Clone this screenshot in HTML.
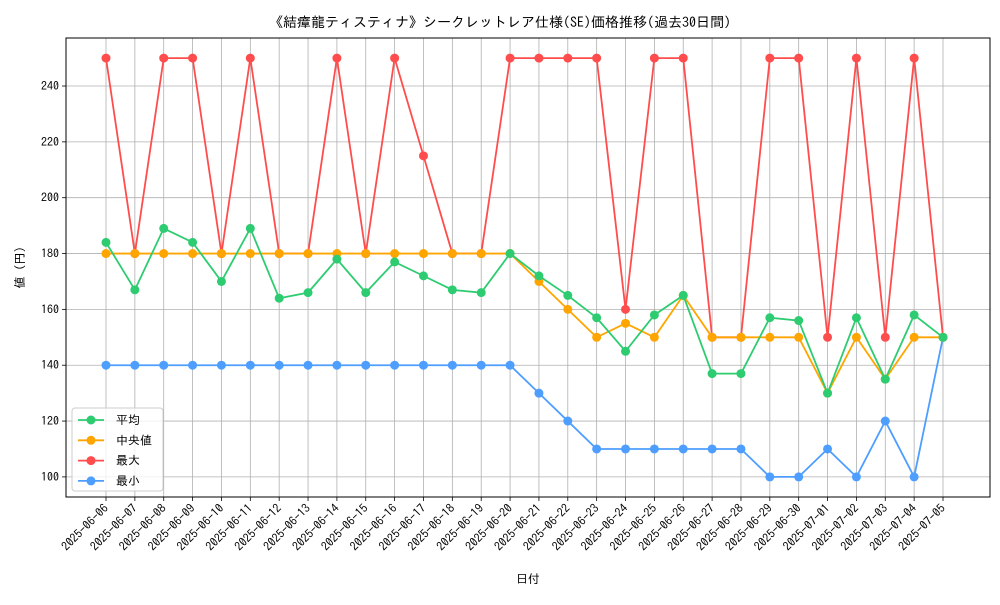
<!DOCTYPE html>
<html><head><meta charset="utf-8"><style>
body{margin:0;background:#fff;}
svg text{font-family:"IPAGothic","Noto Sans CJK JP",sans-serif;fill:#000;}
</style></head><body>
<svg id="chart" width="1000" height="600"></svg>
<script>
const dates=["2025-06-06","2025-06-07","2025-06-08","2025-06-09","2025-06-10","2025-06-11","2025-06-12","2025-06-13","2025-06-14","2025-06-15","2025-06-16","2025-06-17","2025-06-18","2025-06-19","2025-06-20","2025-06-21","2025-06-22","2025-06-23","2025-06-24","2025-06-25","2025-06-26","2025-06-27","2025-06-28","2025-06-29","2025-06-30","2025-07-01","2025-07-02","2025-07-03","2025-07-04","2025-07-05"];
const meanVals=[184,167,189,184,170,189,164,166,178,166,177,172,167,166,180,172,165,157,145,158,165,137,137,157,156,130,157,135,158,150];
const medianVals=[180,180,180,180,180,180,180,180,180,180,180,180,180,180,180,170,160,150,155,150,165,150,150,150,150,130,150,135,150,150];
const maxVals=[250,180,250,250,180,250,180,180,250,180,250,215,180,180,250,250,250,250,160,250,250,150,150,250,250,150,250,150,250,150];
const minVals=[140,140,140,140,140,140,140,140,140,140,140,140,140,140,140,130,120,110,110,110,110,110,110,100,100,110,100,120,100,150];
const yTicks=[100,120,140,160,180,200,220,240];
const seriesNames=["平均","中央値","最大","最小"];
const seriesColors=["#2ecc71","#ffa500","#ff4d4d","#4d9eff"];

const svg=document.getElementById('chart');
const NS="http://www.w3.org/2000/svg";
const L=66,R=990,T=38,B=497,yMin=92.8,yMax=257.2;
const xs=i=>106+(943-106)*i/(dates.length-1);
const ys=v=>B-(v-yMin)/(yMax-yMin)*(B-T);
function mk(tag,attrs,parent){const e=document.createElementNS(NS,tag);for(const k in attrs)e.setAttribute(k,attrs[k]);(parent||svg).appendChild(e);return e;}

const title=mk('text',{x:500,y:27,'text-anchor':'middle','font-size':14});
title.textContent="《結瘴龍ティスティナ》シークレットレア仕様(SE)価格推移(過去30日間)";



const grid=mk('g',{});


dates.forEach((d,i)=>{
  mk('line',{x1:xs(i),x2:xs(i),y1:T,y2:B,stroke:'#b0b0b0','stroke-width':0.8},grid);
  mk('line',{x1:xs(i),x2:xs(i),y1:B,y2:B+4,stroke:'#000','stroke-width':0.8});
  const t=mk('text',{x:xs(i)+3,y:B+12,'text-anchor':'end','font-size':12,transform:`rotate(-45 ${xs(i)+3} ${B+12})`});
  t.textContent=d;
  
  
});
yTicks.forEach(v=>{
  mk('line',{x1:L,x2:R,y1:ys(v),y2:ys(v),stroke:'#b0b0b0','stroke-width':0.8},grid);
  mk('line',{x1:L-4,x2:L,y1:ys(v),y2:ys(v),stroke:'#000','stroke-width':0.8});
  const t=mk('text',{x:L-7,y:ys(v)+4,'text-anchor':'end','font-size':12});
  t.textContent=v;
  
  
});
const frame=mk('rect',{x:L,y:T,width:R-L,height:B-T,fill:'none',stroke:'#000','stroke-width':1});



const xl=mk('text',{x:(L+R)/2,y:583,'text-anchor':'middle','font-size':12});
xl.textContent="日付";


const yl=mk('text',{x:24,y:(T+B)/2,'text-anchor':'middle','font-size':12,transform:`rotate(-90 24 ${(T+B)/2})`});
yl.textContent="値 (円)";



const all=[meanVals,medianVals,maxVals,minVals];
const keys=['mean','median','max','min'];
[3,2,1,0].forEach(s=>{
  const g=mk('g',{});
  
  
  mk('polyline',{points:all[s].map((v,i)=>xs(i)+','+ys(v)).join(' '),fill:'none',stroke:seriesColors[s],'stroke-width':1.8},g);
  all[s].forEach((v,i)=>{
    const c=mk('circle',{cx:xs(i),cy:ys(v),r:4.5,fill:seriesColors[s]},g);
    
    
  });
});

const lg=mk('g',{});


mk('rect',{x:72,y:408,width:91,height:83,rx:3,fill:'#fff','fill-opacity':0.8,stroke:'#ccc'},lg);
seriesNames.forEach((n,s)=>{
  const y=420+s*20.3;
  const e=mk('g',{},lg);
  
  
  mk('line',{x1:78,x2:104,y1:y,y2:y,stroke:seriesColors[s],'stroke-width':1.8},e);
  mk('circle',{cx:91,cy:y,r:4.5,fill:seriesColors[s]},e);
  const t=mk('text',{x:116,y:y+4,'font-size':12},e);
  t.textContent=n;
});
</script>
</body></html>
